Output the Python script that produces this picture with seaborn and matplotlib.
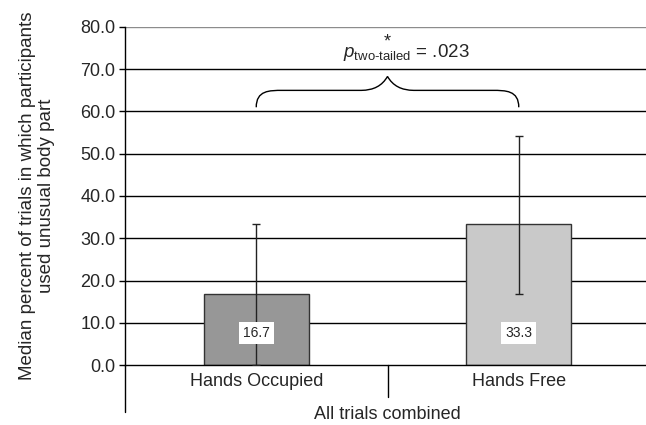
import matplotlib
matplotlib.use("Agg")
import matplotlib.pyplot as plt
from matplotlib.path import Path
from matplotlib.patches import PathPatch
import seaborn as sns
import numpy as np

# data
conditions = ['Hands Occupied', 'Hands Free']
medians = [16.7, 33.3]
err_low = [0.0, 16.7]    # lower end of the error bars
err_high = [33.3, 54.2]  # upper end of the error bars
bar_colors = ['#979797', '#c9c9c9']
p_value = '.023'

sns.set_style('white')
plt.rcParams['font.family'] = ['Liberation Sans', 'DejaVu Sans']
plt.rcParams['mathtext.fontset'] = 'custom'
plt.rcParams['mathtext.rm'] = 'Liberation Sans'
plt.rcParams['mathtext.it'] = 'Liberation Sans:italic'

fig = plt.figure(figsize=(6.46, 4.25), dpi=100)
ax = fig.add_axes([125 / 646, 1 - 365 / 425, 525 / 646, 338 / 425])

# gridlines first so the bars sit on top
for v in np.arange(10, 80, 10):
    ax.axhline(v, color='black', lw=1, zorder=0)
ax.axhline(80, color='#8c8c8c', lw=1, zorder=0)

sns.barplot(x=conditions, y=medians, hue=conditions, palette=bar_colors,
            width=0.4, edgecolor='#333333', linewidth=1, legend=False, ax=ax, zorder=2)

x = np.arange(len(conditions))
lo = np.array(medians) - np.array(err_low)
hi = np.array(err_high) - np.array(medians)
ax.errorbar(x, medians, yerr=[lo, hi], fmt='none', ecolor='#222222',
            elinewidth=1, capsize=3, capthick=1, zorder=3)

# value boxes inside bars
for xi, m in zip(x, medians):
    ax.text(xi, 7.5, f'{m:.1f}', ha='center', va='center', fontsize=10,
            bbox=dict(facecolor='white', edgecolor='none', pad=3), zorder=4)

ax.set_xlim(-0.5, 1.5)
ax.set_ylim(0, 80)
ax.set_yticks(np.arange(0, 81, 10))
ax.set_yticklabels([f'{v:.1f}' for v in np.arange(0, 81, 10)], fontsize=13)
ax.tick_params(axis='y', length=4, width=1, color='black', direction='out', left=True, pad=3)
ax.tick_params(axis='x', length=0, labelsize=13, pad=6)
for s in ['top', 'right']:
    ax.spines[s].set_visible(False)
for s in ['left', 'bottom']:
    ax.spines[s].set_color('black')
    ax.spines[s].set_linewidth(1)

# category axis extras (Excel style)
trans = ax.get_xaxis_transform()
ax.plot([-0.5, -0.5], [0, -0.14], color='black', lw=1, transform=trans, clip_on=False)
ax.plot([0.5, 0.5], [0, -0.095], color='black', lw=1, transform=trans, clip_on=False)

ax.set_xlabel('All trials combined', fontsize=13, labelpad=11)
ax.set_ylabel('Median percent of trials in which participants\nused unusual body part',
              fontsize=13.5, labelpad=18, linespacing=1.15)

# curly brace between the two conditions
verts = [(0.0, 61.0), (0.0, 65.0), (0.05, 65.0), (0.1, 65.0),
         (0.4, 65.0), (0.47, 65.0), (0.5, 68.3),
         (0.53, 65.0), (0.6, 65.0), (0.9, 65.0),
         (0.95, 65.0), (1.0, 65.0), (1.0, 61.0)]
codes = [Path.MOVETO, Path.CURVE4, Path.CURVE4, Path.CURVE4,
         Path.LINETO, Path.CURVE3, Path.CURVE3,
         Path.CURVE3, Path.CURVE3, Path.LINETO,
         Path.CURVE4, Path.CURVE4, Path.CURVE4]
ax.add_patch(PathPatch(Path(verts, codes), facecolor='none', edgecolor='black', lw=1, zorder=3))

# star sits just above the p value, as in the original
ax.text(0.5, 75.6, r'$*$', ha='center', va='baseline', fontsize=13, zorder=4)
ax.text(0.57, 72.9, r'$p_{\mathrm{two}\text{-}\mathrm{tailed}}$ = ' + p_value,
        ha='center', va='baseline', fontsize=13.5, zorder=4)

fig.savefig('out.png', dpi=100)
